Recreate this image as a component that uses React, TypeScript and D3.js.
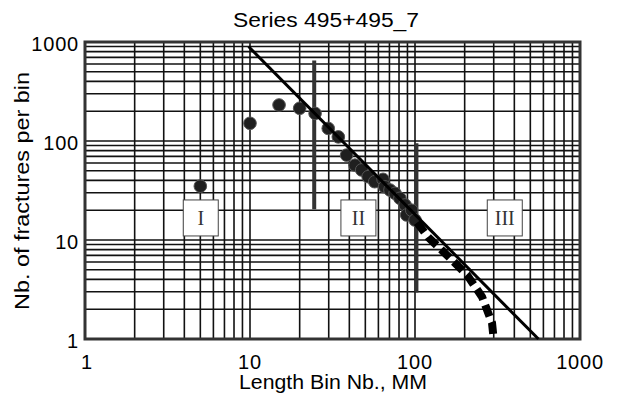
import { useEffect, useRef } from 'react'
import * as d3 from "d3";

// axis labels
const xTickLabels = [1, 10, 100, 1000];
const yTickLabels = [1, 10, 100, 1000];

// measured fracture counts per length bin
const binLength = [5, 10, 15, 20, 24.8, 29.8, 34.3, 38.5, 43.3, 47.5, 52, 57, 64, 65.5, 70.5, 75.7, 81, 87, 89, 95.5, 100];
const fracCount = [35, 151, 231, 214, 190, 134, 110, 72, 57, 51, 43.6, 38.8, 41, 34.5, 32, 29.6, 26.4, 22.6, 17.9, 20, 15.9];

// power-law fit (straight in log-log)
const fitX = [9.8, 560];
const fitY = [900, 1];

// tail of the distribution (dashed)
const tailX = [103, 120, 156, 207, 255, 293, 298];
const tailY = [15, 10.7, 7.05, 4.43, 2.66, 1.45, 1.1];

// zone limits
const limitX = [24.5, 102];
const limitTop = [650, 95];
const limitBottom = [20.4, 2.95];

// zone labels
const zoneNames = ["I", "II", "III"];
const zoneX = [5.03, 45.4, 350];
const zoneY = 16.7;

const sans = "'Liberation Sans', Arial, Helvetica, sans-serif";

function App() {
	const ref = useRef<SVGSVGElement>(null);

	useEffect(() => {
		const width = 617, height = 396;
		const svg = d3.select(ref.current);
		svg.selectAll("*").remove();

		const x = d3.scaleLog().domain([1, 1000]).range([85, 580]);
		const y = d3.scaleLog().domain([1, 1000]).range([339, 42]);

		// grid
		const grid = svg.append("g").attr("stroke", "#111").attr("stroke-width", 1.6);
		grid.selectAll("line.v")
			.data(x.ticks())
			.join("line")
			.attr("x1", d => x(d)).attr("x2", d => x(d))
			.attr("y1", y(1000)).attr("y2", y(1));
		grid.selectAll("line.h")
			.data(y.ticks())
			.join("line")
			.attr("class", "h")
			.attr("x1", x(1)).attr("x2", x(1000))
			.attr("y1", d => y(d)).attr("y2", d => y(d));

		// frame
		svg.append("rect")
			.attr("x", x(1)).attr("y", y(1000))
			.attr("width", x(1000) - x(1)).attr("height", y(1) - y(1000))
			.attr("fill", "none").attr("stroke", "#333").attr("stroke-width", 3);

		// tick labels
		svg.append("g").selectAll("text")
			.data(xTickLabels)
			.join("text")
			.attr("x", d => x(d) + (d === 1 ? 2 : 0))
			.attr("y", 369)
			.attr("text-anchor", "middle")
			.attr("font-family", sans).attr("font-size", 20)
			.attr("letter-spacing", 0.8)
			.text(d => d);
		svg.append("g").selectAll("text")
			.data(yTickLabels)
			.join("text")
			.attr("x", 79)
			.attr("y", d => y(d) + 9)
			.attr("text-anchor", "end")
			.attr("font-family", sans).attr("font-size", 20)
			.attr("letter-spacing", 0.8)
			.text(d => d);

		// titles
		svg.append("text")
			.attr("x", 326).attr("y", 26.5)
			.attr("text-anchor", "middle")
			.attr("font-family", sans).attr("font-size", 20)
			.attr("textLength", 186).attr("lengthAdjust", "spacingAndGlyphs")
			.text("Series 495+495_7");
		svg.append("text")
			.attr("x", 333).attr("y", 389)
			.attr("text-anchor", "middle")
			.attr("font-family", sans).attr("font-size", 20)
			.attr("textLength", 188).attr("lengthAdjust", "spacingAndGlyphs")
			.text("Length Bin Nb., MM");
		svg.append("text")
			.attr("transform", "translate(29,191) rotate(-90)")
			.attr("text-anchor", "middle")
			.attr("font-family", sans).attr("font-size", 20)
			.attr("textLength", 238).attr("lengthAdjust", "spacingAndGlyphs")
			.text("Nb. of fractures per bin");

		// zone limits
		svg.append("g").selectAll("line")
			.data(limitX)
			.join("line")
			.attr("x1", d => x(d)).attr("x2", d => x(d))
			.attr("y1", (d, i) => y(limitTop[i]))
			.attr("y2", (d, i) => y(limitBottom[i]))
			.attr("stroke", "#333").attr("stroke-width", 4);

		// data points
		svg.append("g").selectAll("circle")
			.data(binLength)
			.join("circle")
			.attr("cx", d => x(d))
			.attr("cy", (d, i) => y(fracCount[i]))
			.attr("r", 6.3)
			.attr("fill", "#1f1f1f")
			.attr("stroke", "#555").attr("stroke-width", 1);

		// fit line
		const line = d3.line<number>().x(d => x(d[0])).y(d => y(d[1]));
		svg.append("path")
			.attr("d", line(fitX.map((v, i) => [v, fitY[i]]) as any))
			.attr("fill", "none").attr("stroke", "#000").attr("stroke-width", 3);

		// dashed tail
		svg.append("path")
			.attr("d", line(tailX.map((v, i) => [v, tailY[i]]) as any))
			.attr("fill", "none").attr("stroke", "#000").attr("stroke-width", 8)
			.attr("stroke-dasharray", "12,6");

		// zone boxes
		const zones = svg.append("g").selectAll("g")
			.data(zoneNames)
			.join("g")
			.attr("transform", (d, i) => `translate(${x(zoneX[i])}, ${y(zoneY)})`);
		zones.append("rect")
			.attr("x", -17.5).attr("y", -18)
			.attr("width", 35).attr("height", 36)
			.attr("fill", "#fff").attr("stroke", "#444").attr("stroke-width", 1);
		zones.append("text")
			.attr("y", 7)
			.attr("text-anchor", "middle")
			.attr("font-family", "'Liberation Serif', 'Times New Roman', serif")
			.attr("font-size", 20)
			.attr("fill", "#333")
			.text(d => d);

		svg.attr("width", width).attr("height", height);
	}, []);

	return (
		<svg ref={ref} width={617} height={396}
			style={{ position: "absolute", left: 0, top: 0, display: "block", background: "#fff" }} />
	);
}

export default App;
